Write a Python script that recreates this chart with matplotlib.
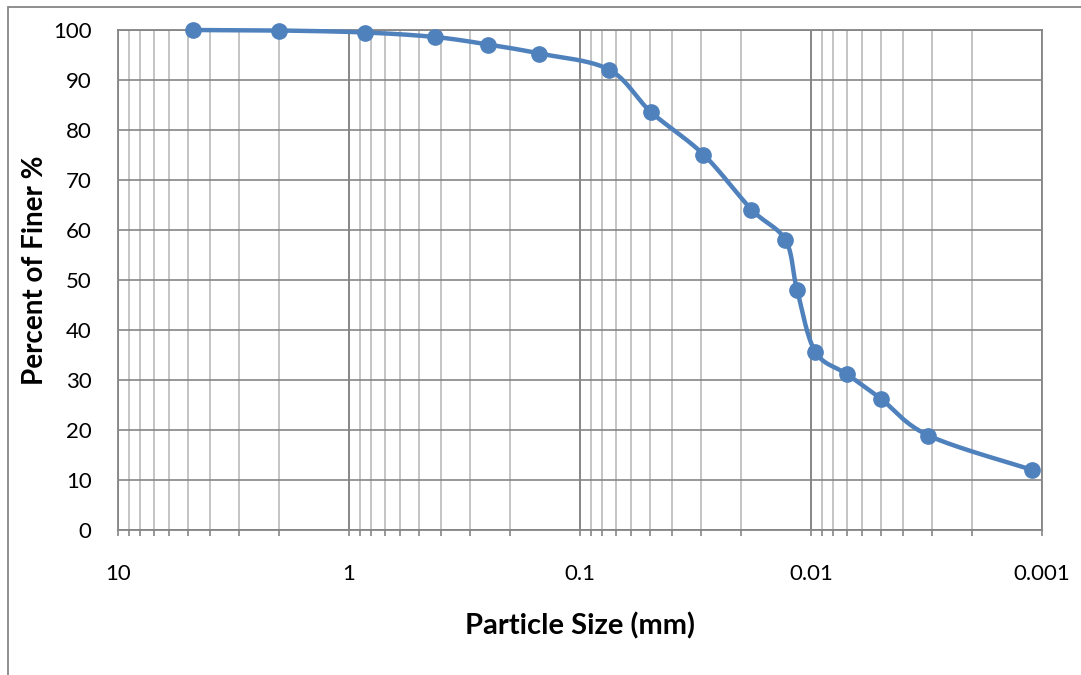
import numpy as np
import matplotlib
matplotlib.use("Agg")
import matplotlib.pyplot as plt
from matplotlib.ticker import FixedLocator, LogLocator, NullFormatter
from matplotlib.patches import Rectangle

plt.rcParams["font.family"] = ["Lato", "DejaVu Sans"]

# Grain size distribution data
particle_size = [4.75, 2.0, 0.85, 0.425, 0.25, 0.15, 0.075, 0.0493, 0.0292,
                 0.0181, 0.0129, 0.0115, 0.0096, 0.0070, 0.0050, 0.0031, 0.0011]
percent_finer = [100, 99.9, 99.5, 98.6, 97.1, 95.3, 92.1, 83.6, 75.1,
                 64.1, 58.0, 48.1, 35.7, 31.2, 26.3, 18.9, 12.0]

size_ticks = [10, 1, 0.1, 0.01, 0.001]
size_tick_labels = ["10", "1", "0.1", "0.01", "0.001"]
finer_ticks = list(range(0, 101, 10))

blue = "#4F81BD"
grid_dark = "#868686"
grid_light = "#BFBFBF"


def smooth_curve(xs, ys, n=40):
    # Excel-like smoothing: Catmull-Rom style Bezier in (log x, y)
    lx = np.log10(xs)
    y = np.asarray(ys, dtype=float)
    px = np.concatenate([[lx[0]], lx, [lx[-1]]])
    py = np.concatenate([[y[0]], y, [y[-1]]])
    out_x, out_y = [], []
    t = np.linspace(0, 1, n)
    for i in range(1, len(px) - 2):
        p0 = np.array([px[i], py[i]])
        p3 = np.array([px[i + 1], py[i + 1]])
        c1 = p0 + (np.array([px[i + 1], py[i + 1]]) - np.array([px[i - 1], py[i - 1]])) / 6
        c2 = p3 - (np.array([px[i + 2], py[i + 2]]) - np.array([px[i], py[i]])) / 6
        pts = (((1 - t) ** 3)[:, None] * p0 + (3 * (1 - t) ** 2 * t)[:, None] * c1
               + (3 * (1 - t) * t ** 2)[:, None] * c2 + (t ** 3)[:, None] * p3)
        out_x.extend(pts[:, 0])
        out_y.extend(pts[:, 1])
    return 10 ** np.array(out_x), np.array(out_y)


fig = plt.figure(figsize=(10.81, 6.75), dpi=100)
ax = fig.add_axes([118 / 1081, 1 - 530 / 675, (1042 - 118) / 1081, 500 / 675])

# chart area border
fig.add_artist(Rectangle((8 / 1081, -0.1), 1.2, 1 - 7 / 675 + 0.1,
                         transform=fig.transFigure, fill=False,
                         edgecolor=grid_dark, lw=1.3))

ax.set_xscale("log")
ax.set_xlim(10, 0.001)
ax.set_ylim(0, 100)

ax.xaxis.set_major_locator(FixedLocator(size_ticks))
ax.set_xticklabels(size_tick_labels)
ax.xaxis.set_minor_locator(LogLocator(base=10, subs=np.arange(2, 10)))
ax.xaxis.set_minor_formatter(NullFormatter())
ax.set_yticks(finer_ticks)

ax.grid(which="minor", axis="x", color=grid_light, lw=1.3)
ax.grid(which="major", axis="x", color=grid_dark, lw=1.4)
ax.grid(which="major", axis="y", color=grid_dark, lw=1.2)
ax.set_axisbelow(True)

for s in ax.spines.values():
    s.set_color(grid_dark)
    s.set_linewidth(1.3)

ax.tick_params(axis="x", which="both", direction="out", length=4.5,
               width=1.2, color=grid_dark, labelsize=16, pad=20)
ax.tick_params(axis="y", which="both", length=0, labelsize=16, pad=19)

sx, sy = smooth_curve(particle_size, percent_finer)
ax.plot(sx, sy, color=blue, lw=3.2, solid_capstyle="round", clip_on=False, zorder=3)
ax.plot(particle_size, percent_finer, "o", color=blue, markersize=11,
        clip_on=False, zorder=4)

ax.set_xlabel("Particle Size (mm)", fontsize=21, fontweight="bold")
ax.set_ylabel("Percent of Finer %", fontsize=20, fontweight="bold")
ax.xaxis.set_label_coords(0.5, -(626 - 530) / 500, transform=ax.transAxes)
ax.xaxis.label.set_va("center")
ax.yaxis.set_label_coords(-(118 - 35) / 924, (530 - 270) / 500, transform=ax.transAxes)
ax.yaxis.label.set_va("center")

fig.savefig("out.png", dpi=100, facecolor="white")
